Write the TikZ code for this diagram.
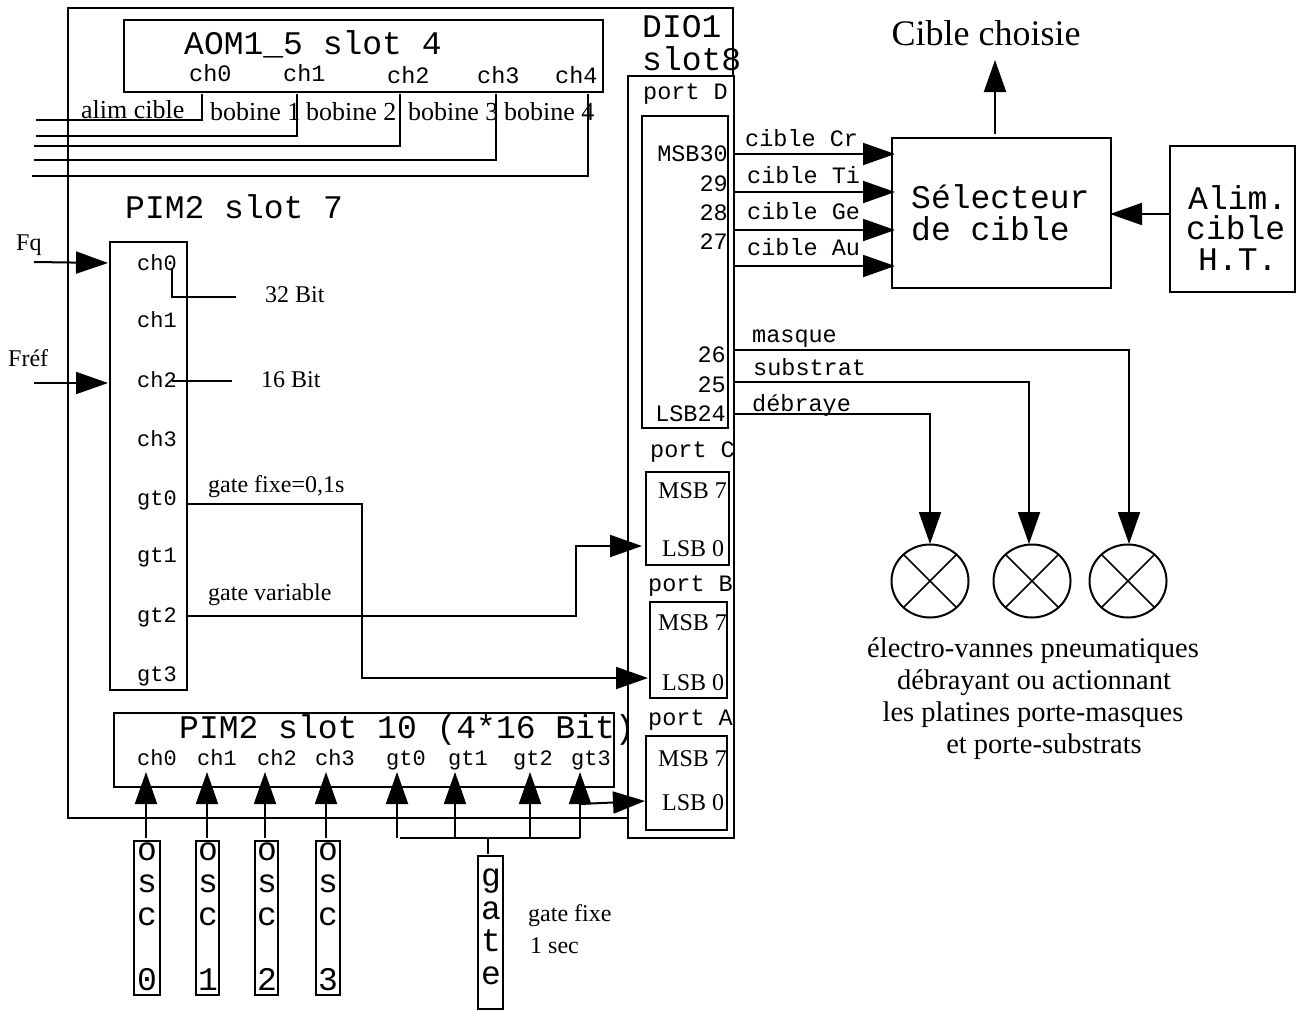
\documentclass[tikz,border=0pt]{standalone}
\usepackage{fontspec}
\setmainfont{Liberation Serif}
\setmonofont{Liberation Mono}
\usetikzlibrary{arrows.meta,shapes.geometric}
\tikzset{
 boxst/.style={draw,line width=2pt,inner sep=0pt,outer sep=0pt,rectangle},
 wire/.style={line width=2pt,line join=miter},
 arw/.style={wire,-{Triangle[length=32pt,width=22pt]}},
 mono/.style={font=\ttfamily\fontsize{33}{33}\selectfont,inner sep=0pt,anchor=base west},
 monos/.style={font=\ttfamily\fontsize{23.5}{23.5}\selectfont,inner sep=0pt,anchor=base west},
 monor/.style={font=\ttfamily\fontsize{23.5}{23.5}\selectfont,inner sep=0pt,anchor=base east},
 monov/.style={font=\ttfamily\fontsize{33}{32.5}\selectfont,inner sep=0pt,anchor=base,align=center},
 monot/.style={font=\ttfamily\fontsize{22}{22}\selectfont,inner sep=0pt,anchor=base west},
 ser/.style={font=\fontsize{26}{26}\selectfont,inner sep=0pt,anchor=base west},
 sers/.style={font=\fontsize{24}{24}\selectfont,inner sep=0pt,anchor=base west},
 serc/.style={font=\fontsize{28.5}{28.5}\selectfont,inner sep=0pt,anchor=base},
 valve/.style={draw,line width=2pt,shape=ellipse,inner sep=0pt,outer sep=0pt,minimum width=77pt,minimum height=73pt},
}
\newcommand\wbox[5]{\node[boxst,minimum width=\dimexpr#4pt-#2pt\relax,minimum height=\dimexpr#5pt-#3pt\relax] (#1) at ({(#2+#4)/2},{(#3+#5)/2}) {};}
\newcommand\lab[5]{\node[#2] (#1) at (#3,#4) {#5};}
\newcommand\pt[3]{\coordinate (#1) at (#2,#3);}
\begin{document}
\begin{tikzpicture}[x=1pt,y=-1pt]
\useasboundingbox (0,0) rectangle (1300,1010);
% boxes
\wbox{aom}{124}{20}{603}{92}
\wbox{dio}{628}{76}{734}{838}
\wbox{portd}{642}{116}{728}{428}
\wbox{portc}{646}{472}{729}{565}
\wbox{portb}{650}{602}{727}{698}
\wbox{porta}{646}{736}{727}{830}
\wbox{pima}{110}{242}{187}{690}
\wbox{pimb}{114}{713}{614}{787}
\wbox{oscA}{134}{841}{160}{995}
\wbox{oscB}{196}{841}{219}{995}
\wbox{oscC}{255}{841}{278}{995}
\wbox{oscD}{316}{841}{340}{995}
\wbox{gatebox}{478}{856}{503}{1009}
\wbox{sel}{892}{138}{1111}{288}
\wbox{alim}{1170}{146}{1295}{292}
% frame
\pt{fa}{628}{818}\pt{fb}{68}{818}\pt{fc}{68}{8}\pt{fd}{733}{8}\pt{fe}{733}{76}
\draw[wire] (fa) -- (fb) -- (fc) -- (fd) -- (fe);
% AOM outputs
\pt{a0t}{202}{94}\pt{a0b}{202}{120}\pt{a0l}{36}{120}
\pt{a1t}{297}{94}\pt{a1b}{297}{136}\pt{a1l}{36}{136}
\pt{a2t}{400}{94}\pt{a2b}{400}{146}\pt{a2l}{34}{146}
\pt{a3t}{496}{94}\pt{a3b}{496}{160}\pt{a3l}{34}{160}
\pt{a4t}{588}{94}\pt{a4b}{588}{176}\pt{a4l}{32}{176}
\draw[wire] (a0t) -- (a0b) -- (a0l);
\draw[wire] (a1t) -- (a1b) -- (a1l);
\draw[wire] (a2t) -- (a2b) -- (a2l);
\draw[wire] (a3t) -- (a3b) -- (a3l);
\draw[wire] (a4t) -- (a4b) -- (a4l);
% PIM inputs
\pt{fq}{34}{262}\pt{fqe}{108}{263}\pt{fr}{34}{383}\pt{fre}{108}{383}
\draw[arw] (fq) -- (fqe);
\draw[arw] (fr) -- (fre);
\pt{b32a}{172}{268}\pt{b32b}{172}{297}\pt{b32c}{236}{297}
\draw[wire] (b32a) -- (b32b) -- (b32c);
\pt{b16a}{172}{381}\pt{b16b}{232}{381}
\draw[wire] (b16a) -- (b16b);
% gate wires
\pt{g0a}{187}{504}\pt{g0b}{362}{504}\pt{g0c}{362}{678}\pt{g0d}{648}{678}
\draw[arw] (g0a) -- (g0b) -- (g0c) -- (g0d);
\pt{g2a}{187}{616}\pt{g2b}{576}{616}\pt{g2c}{576}{546}\pt{g2d}{642}{546}
\draw[arw] (g2a) -- (g2b) -- (g2c) -- (g2d);
% slot 10 inputs
\pt{o0}{146}{838}\pt{o0e}{146}{772}
\pt{o1}{207}{838}\pt{o1e}{207}{772}
\pt{o2}{265}{838}\pt{o2e}{265}{772}
\pt{o3}{326}{838}\pt{o3e}{326}{772}
\draw[arw] (o0) -- (o0e);
\draw[arw] (o1) -- (o1e);
\draw[arw] (o2) -- (o2e);
\draw[arw] (o3) -- (o3e);
\pt{t0}{397}{838}\pt{t0e}{397}{772}
\pt{t1}{455}{838}\pt{t1e}{455}{772}
\pt{t2}{530}{838}\pt{t2e}{530}{772}
\pt{t3}{580}{838}\pt{t3e}{580}{772}
\draw[arw] (t0) -- (t0e);
\draw[arw] (t1) -- (t1e);
\draw[arw] (t2) -- (t2e);
\draw[arw] (t3) -- (t3e);
\pt{bar}{400}{838}\draw[wire] (bar) -- (t3);
\pt{gj}{488}{838}\pt{gk}{488}{854}\draw[wire] (gj) -- (gk);
\pt{t3x}{580}{804}\pt{t3y}{645}{801}
\draw[arw] (t3x) -- (t3y);
% target outputs
\pt{c0}{734}{154}\pt{c0e}{895}{154}
\pt{c1}{734}{192}\pt{c1e}{895}{192}
\pt{c2}{734}{230}\pt{c2e}{895}{230}
\pt{c3}{734}{266}\pt{c3e}{895}{266}
\draw[arw] (c0) -- (c0e);
\draw[arw] (c1) -- (c1e);
\draw[arw] (c2) -- (c2e);
\draw[arw] (c3) -- (c3e);
\pt{up}{995}{134}\pt{upe}{995}{60}
\draw[arw] (up) -- (upe);
\pt{ha}{1170}{214}\pt{hb}{1110}{214}
\draw[arw] (ha) -- (hb);
% valves
\node[valve] (v1) at (930,581) {};
\node[valve] (v2) at (1032,581) {};
\node[valve] (v3) at (1128,581) {};
\foreach \v in {v1,v2,v3}{
 \draw[line width=1.6pt] (\v.45) -- (\v.225);
 \draw[line width=1.6pt] (\v.135) -- (\v.315);
}
\pt{m0}{734}{350}\pt{m1}{1129}{350}\pt{m2}{1129}{544}
\draw[arw] (m0) -- (m1) -- (m2);
\pt{s0}{734}{382}\pt{s1}{1029}{382}\pt{s2}{1029}{544}
\draw[arw] (s0) -- (s1) -- (s2);
\pt{d0}{734}{414}\pt{d1}{930}{414}\pt{d2}{930}{544}
\draw[arw] (d0) -- (d1) -- (d2);
% texts
\lab{tA}{mono}{184}{54}{AOM1\_5 slot 4}
\lab{tB}{monos}{189}{81}{ch0}
\lab{tC}{monos}{283}{81}{ch1}
\lab{tD}{monos}{387}{83}{ch2}
\lab{tE}{monos}{477}{83}{ch3}
\lab{tF}{monos}{555}{83}{ch4}
\lab{tG}{ser}{81}{118}{alim cible}
\lab{tH}{ser}{210}{120}{bobine 1}
\lab{tI}{ser}{306}{120}{bobine 2}
\lab{tJ}{ser}{408}{120}{bobine 3}
\lab{tK}{ser}{504}{120}{bobine 4}
\lab{tL}{mono}{125}{218}{PIM2 slot 7}
\lab{tM}{sers}{16}{250}{Fq}
\lab{tN}{sers}{8}{366}{Fréf}
\lab{p0}{monot}{137}{270}{ch0}
\lab{p1}{monot}{137}{327}{ch1}
\lab{p2}{monot}{137}{387}{ch2}
\lab{p3}{monot}{137}{446}{ch3}
\lab{p4}{monot}{137}{505}{gt0}
\lab{p5}{monot}{137}{562}{gt1}
\lab{p6}{monot}{137}{622}{gt2}
\lab{p7}{monot}{137}{681}{gt3}
\lab{tO}{sers}{265}{302}{32 Bit}
\lab{tP}{sers}{261}{387}{16 Bit}
\lab{tQ}{sers}{208}{492}{gate fixe=0,1s}
\lab{tR}{sers}{208}{600}{gate variable}
\lab{tS}{mono}{179}{738}{PIM2 slot 10 (4*16 Bit)}
\lab{q0}{monot}{137}{765}{ch0}
\lab{q1}{monot}{197}{765}{ch1}
\lab{q2}{monot}{257}{765}{ch2}
\lab{q3}{monot}{315}{765}{ch3}
\lab{q4}{monot}{386}{765}{gt0}
\lab{q5}{monot}{448}{765}{gt1}
\lab{q6}{monot}{513}{765}{gt2}
\lab{q7}{monot}{571}{765}{gt3}
\lab{oA}{monov}{147}{990}{o\\s\\c\\~\\0}
\lab{oB}{monov}{208}{990}{o\\s\\c\\~\\1}
\lab{oC}{monov}{267}{990}{o\\s\\c\\~\\2}
\lab{oD}{monov}{328}{990}{o\\s\\c\\~\\3}
\lab{oE}{monov}{491}{984}{g\\a\\t\\e}
\lab{tT}{sers}{528}{921}{gate fixe}
\lab{tU}{sers}{530}{953}{1 sec}
\lab{tV}{mono}{642}{37}{DIO1}
\lab{tW}{mono}{642}{70}{slot8}
\lab{pD}{monos}{643}{99}{port D}
\lab{pC}{monos}{650}{457}{port C}
\lab{pB}{monos}{648}{591}{port B}
\lab{pA}{monos}{648}{725}{port A}
\lab{r0}{monor}{728}{161}{MSB30}
\lab{r1}{monor}{728}{191}{29}
\lab{r2}{monor}{728}{220}{28}
\lab{r3}{monor}{728}{249}{27}
\lab{r4}{monor}{726}{362}{26}
\lab{r5}{monor}{726}{392}{25}
\lab{r6}{monor}{726}{421}{LSB24}
\lab{cA}{monos}{745}{146}{cible Cr}
\lab{cB}{monos}{747}{183}{cible Ti}
\lab{cC}{monos}{747}{219}{cible Ge}
\lab{cD}{monos}{747}{255}{cible Au}
\lab{cE}{monos}{752}{342}{masque}
\lab{cF}{monos}{753}{375}{substrat}
\lab{cG}{monos}{752}{411}{débraye}
\lab{mC}{sers}{658}{498}{MSB 7}
\lab{lC}{sers}{662}{556}{LSB 0}
\lab{mB}{sers}{658}{630}{MSB 7}
\lab{lB}{sers}{662}{690}{LSB 0}
\lab{mA}{sers}{658}{766}{MSB 7}
\lab{lA}{sers}{662}{810}{LSB 0}
\lab{sA}{mono}{911}{208}{Sélecteur}
\lab{sB}{mono}{911}{240}{de cible}
\lab{hA}{mono}{1188}{209}{Alim.}
\lab{hB}{mono}{1186}{239}{cible}
\lab{hC}{mono}{1198}{270}{H.T.}
\node[font=\fontsize{36}{36}\selectfont,inner sep=0pt,anchor=base] (choice) at (986,45) {Cible choisie};
\lab{eA}{serc}{1033}{657}{électro-vannes pneumatiques}
\lab{eB}{serc}{1034}{689}{débrayant ou actionnant}
\lab{eC}{serc}{1033}{721}{les platines porte-masques}
\lab{eD}{serc}{1044}{753}{et porte-substrats}
\end{tikzpicture}
\end{document}
